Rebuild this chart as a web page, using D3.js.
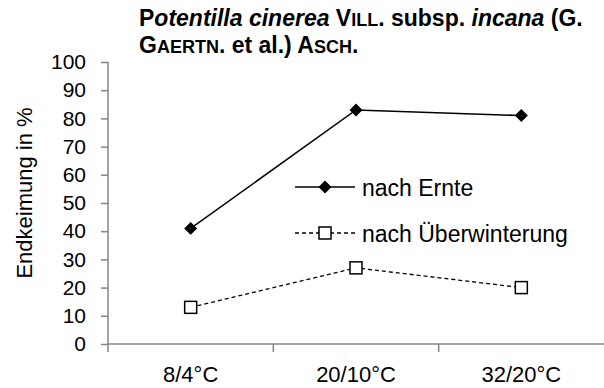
<!DOCTYPE html>
<html><head><meta charset="utf-8">
<script src="https://cdn.jsdelivr.net/npm/d3@7"></script>
<style>
body{margin:0;background:#fff;}
svg text{font-family:"Liberation Sans",Arial,sans-serif;}
</style></head>
<body><svg id="c" width="604" height="388"></svg>
<script>
const categories = ["8/4°C","20/10°C","32/20°C"];
const nachErnte = [41, 83, 81];
const nachUeberwinterung = [13, 27, 20];
const yTicks = [0,10,20,30,40,50,60,70,80,90,100];
const seriesNames = ["nach Ernte","nach Überwinterung"];

const svg = d3.select("#c");
const m = {l:108, r:604, t:62, b:344};
const x = d3.scaleBand().domain(categories).range([m.l, m.r]);
const y = d3.scaleLinear().domain([0,100]).range([m.b, m.t]);
const fs = 22;
const axisColor = "#868686";
const ff = "Liberation Sans, Arial, sans-serif";

// y axis
const ya = svg.append("g").attr("transform",`translate(${m.l},0)`)
  .call(d3.axisLeft(y).tickValues(yTicks).tickSize(7).tickPadding(15));
ya.select(".domain").attr("stroke",axisColor).attr("stroke-width",1.5).attr("d",`M0,${m.t}V${m.b}`);
ya.selectAll(".tick line").attr("stroke",axisColor).attr("stroke-width",1.5);
ya.selectAll("text").attr("font-size",21).attr("fill","#000").style("font-family",ff);

// x axis
const xa = svg.append("g").attr("transform",`translate(0,${m.b})`)
  .call(d3.axisBottom(x).tickSize(0).tickPadding(22));
xa.select(".domain").attr("stroke",axisColor).attr("stroke-width",1.5).attr("d",`M${m.l},0H${m.r}`);
xa.selectAll("text").attr("font-size",fs).attr("fill","#000").style("font-family",ff);
// category boundary ticks
const bounds = categories.map(c=>x(c));
svg.append("g").selectAll("line").data(bounds).join("line")
  .attr("x1",d=>d).attr("x2",d=>d).attr("y1",m.b).attr("y2",m.b+8)
  .attr("stroke",axisColor).attr("stroke-width",1.5);

// y title
svg.append("text").attr("transform",`translate(32,${193}) rotate(-90)`)
  .attr("text-anchor","middle").attr("font-size",fs).text("Endkeimung in %");

// lines
const cx = c=>x(c)+x.bandwidth()/2;
const line = d3.line().x((d,i)=>cx(categories[i])).y(d=>y(d));
svg.append("path").datum(nachErnte).attr("d",line).attr("fill","none").attr("stroke","#000").attr("stroke-width",1.5);
svg.append("path").datum(nachUeberwinterung).attr("d",line).attr("fill","none").attr("stroke","#000").attr("stroke-width",1.3).attr("stroke-dasharray","4,3");
const diamond = d3.symbol().type(d3.symbolSquare2).size(85);
svg.append("g").selectAll("path").data(nachErnte).join("path")
  .attr("d",diamond).attr("transform",(d,i)=>`translate(${cx(categories[i])},${y(d)}) rotate(45)`)
  .attr("fill","#000").attr("stroke","#000");
svg.append("g").selectAll("rect").data(nachUeberwinterung).join("rect")
  .attr("x",(d,i)=>cx(categories[i])-6).attr("y",d=>y(d)-6).attr("width",12).attr("height",12)
  .attr("fill","#fff").attr("stroke","#000").attr("stroke-width",1.5);

// legend
const lg = svg.append("g");
lg.append("line").attr("x1",295).attr("x2",355).attr("y1",187).attr("y2",187).attr("stroke","#000").attr("stroke-width",1.5);
lg.append("path").attr("d",diamond).attr("transform","translate(325,187) rotate(45)").attr("fill","#000").attr("stroke","#000");
lg.append("text").attr("x",362).attr("y",196).attr("font-size",23).text(seriesNames[0]);
lg.append("line").attr("x1",295).attr("x2",355).attr("y1",233).attr("y2",233).attr("stroke","#000").attr("stroke-width",1.3).attr("stroke-dasharray","4,3");
lg.append("rect").attr("x",319).attr("y",227).attr("width",12).attr("height",12).attr("fill","#fff").attr("stroke","#000").attr("stroke-width",1.5);
lg.append("text").attr("x",362).attr("y",242).attr("font-size",23).text(seriesNames[1]);

// title
const tf = 23, sc = 18;
const t = svg.append("text").attr("font-weight","bold").attr("font-size",tf);
const l1 = t.append("tspan").attr("x",139).attr("y",26);
l1.append("tspan").text("P");
l1.append("tspan").attr("font-style","italic").text("otentilla cinerea");
l1.append("tspan").text(" V");
l1.append("tspan").attr("font-size",sc).text("ILL");
l1.append("tspan").text(". subsp. ");
l1.append("tspan").attr("font-style","italic").text("incana");
l1.append("tspan").text(" (G.");
const t2 = svg.append("text").attr("font-weight","bold").attr("font-size",tf).attr("x",139).attr("y",53);
t2.append("tspan").text("G");
t2.append("tspan").attr("font-size",sc).text("AERTN");
t2.append("tspan").text(". et al.) A");
t2.append("tspan").attr("font-size",sc).text("SCH");
t2.append("tspan").text(".");
</script></body></html>
